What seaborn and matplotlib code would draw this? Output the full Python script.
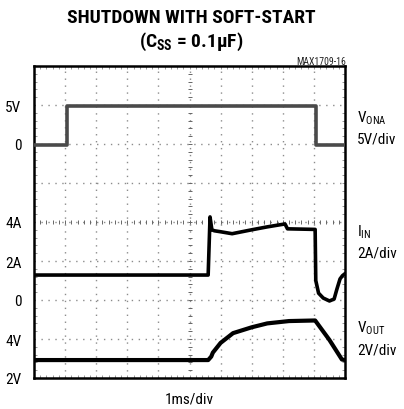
import matplotlib
matplotlib.use("Agg")
import matplotlib.pyplot as plt
import matplotlib.transforms as mtransforms
from matplotlib.ticker import MultipleLocator
import seaborn as sns
import numpy as np

sns.set_style("white")
plt.rcParams['font.family'] = ['Roboto Condensed', 'DejaVu Sans']
plt.rcParams['text.color'] = 'black'
plt.rcParams['ytick.color'] = 'black'
plt.rcParams['ytick.labelcolor'] = 'black'
plt.rcParams['mathtext.fontset'] = 'custom'
plt.rcParams['mathtext.rm'] = 'Roboto Condensed'
plt.rcParams['mathtext.bf'] = 'Roboto Condensed:black'

# time in ms (1 ms/div, 10 divisions)
t_ona = [0, 1.05, 1.05, 9.07, 9.07, 10]
v_ona = [-0.1, -0.1, 4.85, 4.85, -0.1, -0.1]            # V

t_in = [0, 5.6, 5.66, 5.72, 5.8, 6.0, 6.37, 7.0, 7.5, 8.07, 8.15, 9.04,
        9.06, 9.15, 9.3, 9.5, 9.65, 9.74, 9.84, 9.92, 10]
i_in = [1.28, 1.28, 4.26, 3.6, 3.55, 3.5, 3.4, 3.6, 3.75, 3.9, 3.65, 3.62,
        1.0, 0.35, 0.1, -0.05, 0.05, 0.56, 1.08, 1.25, 1.35]   # A

t_out = [0, 5.6, 5.7, 5.75, 5.85, 6.0, 6.4, 7.0, 7.5, 8.2, 9.04, 9.5, 9.9, 10]
v_out = [2.92, 2.92, 3.1, 3.3, 3.5, 3.8, 4.3, 4.6, 4.8, 4.92, 4.95, 3.95, 2.95, 2.92]  # V

# channel offsets (divisions) and scales (units/div)
ona_off, ona_scale = 6, 5.0
in_off, in_scale = 2, 2.0
out_off, out_scale = -1, 2.0   # 2V sits at bottom

tick_pos = [7, 6, 4, 3, 2, 1, 0]
tick_lbl = ["5V", "0", "4A", "2A", "0", "4V", "2V"]

fig = plt.figure(figsize=(4.04, 4.10), dpi=100)
ax = fig.add_axes([34 / 404, 1 - 379 / 410, 311 / 404, 312 / 410])

# dotted graticule
for xg in range(1, 10):
    ax.axvline(xg, color="#8c8c8c", lw=1.0, ls=(0, (1, 4)), zorder=0)
for yg in range(1, 8):
    ax.axhline(yg, color="#8c8c8c", lw=1.0, ls=(0, (1, 4)), zorder=0)
# center cross tick marks
sub = np.arange(0.2, 10, 0.2)
ax.scatter(sub, np.full_like(sub, 4), marker="|", s=10, color="#666666", lw=0.7, zorder=1)
sub_y = np.arange(0.2, 8, 0.2)
ax.scatter(np.full_like(sub_y, 5), sub_y, marker="_", s=10, color="#666666", lw=0.7, zorder=1)

sns.lineplot(x=t_ona, y=ona_off + np.array(v_ona) / ona_scale, sort=False,
             estimator=None, ax=ax, color="#4a4a4a", lw=2.6, zorder=3)
sns.lineplot(x=t_in, y=in_off + np.array(i_in) / in_scale, sort=False,
             estimator=None, ax=ax, color="black", lw=2.6, zorder=3)
sns.lineplot(x=t_out, y=out_off + np.array(v_out) / out_scale, sort=False,
             estimator=None, ax=ax, color="black", lw=3.0, zorder=3)

ax.set_xlim(0, 10)
ax.set_ylim(0, 8)
ax.set_xticks([])
ax.set_yticks(tick_pos)
ax.set_yticklabels(tick_lbl, fontsize=11)
ax.tick_params(axis="y", which="major", length=0, pad=9)
ax.xaxis.set_minor_locator(MultipleLocator(0.2))
ax.yaxis.set_minor_locator(MultipleLocator(0.2))
ax.tick_params(which="minor", direction="in", length=2, width=0.6, color="#888888",
               top=True, bottom=True, left=True, right=True)
ax.set_xlabel("")
ax.set_ylabel("")
for sp in ax.spines.values():
    sp.set_color("black")
    sp.set_linewidth(1.8)

# right-hand channel labels
tr = mtransforms.blended_transform_factory(ax.transAxes, ax.transData)
xr = 1 + 12 / 311
ax.text(xr, 6.69, r"V$_{\mathrm{ONA}}$", transform=tr, fontsize=11, va="center", ha="left")
ax.text(xr, 6.13, "5V/div", transform=tr, fontsize=11, va="center", ha="left")
ax.text(xr, 3.77, r"I$_{\mathrm{IN}}$", transform=tr, fontsize=11, va="center", ha="left")
ax.text(xr, 3.23, "2A/div", transform=tr, fontsize=11, va="center", ha="left")
ax.text(xr, 1.30, r"V$_{\mathrm{OUT}}$", transform=tr, fontsize=11, va="center", ha="left")
ax.text(xr, 0.74, "2V/div", transform=tr, fontsize=11, va="center", ha="left")

ax.text(0.5, -21 / 312, "1ms/div", transform=ax.transAxes, fontsize=11,
        ha="center", va="center")

fig.text(191 / 404, 1 - 18 / 410, "SHUTDOWN WITH SOFT-START", fontsize=14,
         fontweight=900, ha="center", va="center")
fig.text(191 / 404, 1 - 42 / 410, r"(C$_{\mathbf{SS}}$ = 0.1μF)", fontsize=14,
         fontweight=900, ha="center", va="center")
fig.text(346 / 404, 1 - 62 / 410, "MAX1709-16", fontsize=7, ha="right", va="center",
         color="#222222")

fig.savefig("out.png", dpi=100)
